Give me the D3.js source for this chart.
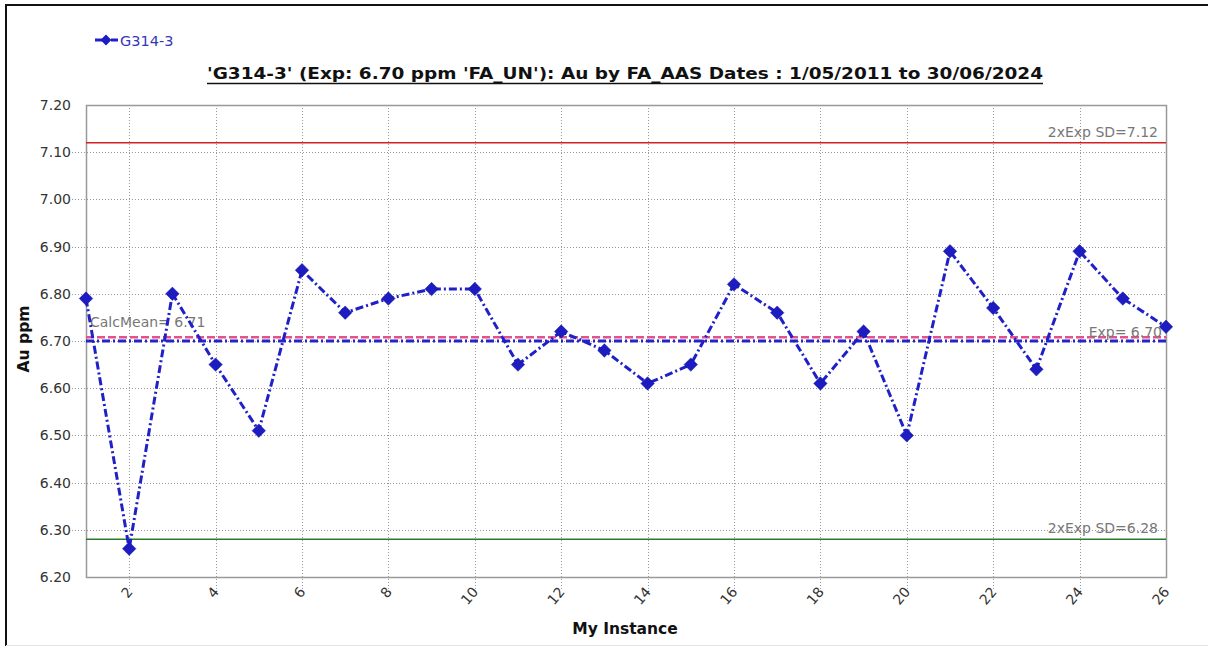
<!DOCTYPE html>
<html><head><meta charset="utf-8">
<script src="https://cdn.jsdelivr.net/npm/d3@7"></script>
<style>
html,body{margin:0;padding:0;background:#fff;}
svg{display:block;}
text{font-family:"DejaVu Sans",sans-serif;}
</style></head>
<body>
<svg id="c" width="1208" height="648"></svg>
<script>
const seriesName = "G314-3";
const instances = [1,2,3,4,5,6,7,8,9,10,11,12,13,14,15,16,17,18,19,20,21,22,23,24,25,26];
const values = [6.79,6.26,6.80,6.65,6.51,6.85,6.76,6.79,6.81,6.81,6.65,6.72,6.68,6.61,6.65,6.82,6.76,6.61,6.72,6.50,6.89,6.77,6.64,6.89,6.79,6.73];
const xTicks = [2,4,6,8,10,12,14,16,18,20,22,24,26];
const yTicks = [6.20,6.30,6.40,6.50,6.60,6.70,6.80,6.90,7.00,7.10,7.20];
const expValue = 6.70, calcMean = 6.71, upperSD = 7.12, lowerSD = 6.28;
const titleText = "'G314-3' (Exp: 6.70 ppm 'FA_UN'): Au by FA_AAS Dates : 1/05/2011 to 30/06/2024";

const svg = d3.select("#c");
const L = 86, R = 1166, T = 105, B = 577;
const x = d3.scaleLinear().domain([1,26]).range([L,R]);
const y = d3.scaleLinear().domain([6.2,7.2]).range([B,T]);

// outer frame
svg.append("line").attr("x1",6).attr("x2",1208).attr("y1",5).attr("y2",5).attr("stroke","#111").attr("stroke-width",2);
svg.append("line").attr("x1",6).attr("x2",6).attr("y1",4).attr("y2",646).attr("stroke","#111").attr("stroke-width",2);
svg.append("line").attr("x1",6).attr("x2",1208).attr("y1",645.5).attr("y2",645.5).attr("stroke","#e4e4e4").attr("stroke-width",1);

// grid
svg.append("g").selectAll("line").data(yTicks.slice(1,-1)).join("line")
  .attr("x1",L-14).attr("x2",R).attr("y1",d=>Math.round(y(d))+0.5).attr("y2",d=>Math.round(y(d))+0.5)
  .attr("stroke","#999").attr("stroke-width",1).attr("stroke-dasharray","1,2");
svg.append("g").selectAll("line").data(xTicks.slice(0,-1)).join("line")
  .attr("y1",T).attr("y2",B+14).attr("x1",d=>Math.round(x(d))+0.5).attr("x2",d=>Math.round(x(d))+0.5)
  .attr("stroke","#999").attr("stroke-width",1).attr("stroke-dasharray","1,2");

// plot border
svg.append("rect").attr("x",L+0.5).attr("y",T+0.5).attr("width",R-L).attr("height",B-T)
  .attr("fill","none").attr("stroke","#999").attr("stroke-width",1.5);

// axes labels via d3 axes
const yAxis = d3.axisLeft(y).tickValues(yTicks).tickFormat(d3.format(".2f")).tickSize(0).tickPadding(15);
const gy = svg.append("g").attr("transform",`translate(${L},0)`).call(yAxis);
gy.select(".domain").remove();
gy.selectAll("text").attr("font-size",14).attr("fill","#333").attr("font-family","DejaVu Sans");

const xAxis = d3.axisBottom(x).tickValues(xTicks).tickFormat(d3.format("d")).tickSize(0).tickPadding(0);
const gx = svg.append("g").attr("transform",`translate(0,${B})`).call(xAxis);
gx.select(".domain").remove();
gx.selectAll("text").attr("font-size",14).attr("fill","#333").attr("font-family","DejaVu Sans")
  .attr("text-anchor","end").attr("y",null).attr("dy","0.35em")
  .attr("transform","translate(0,12) rotate(-50)");

// reference lines
svg.append("line").attr("x1",L).attr("x2",R).attr("y1",y(upperSD)).attr("y2",y(upperSD)).attr("stroke","#d42020").attr("stroke-width",1.5);
svg.append("line").attr("x1",L).attr("x2",R).attr("y1",y(lowerSD)).attr("y2",y(lowerSD)).attr("stroke","#2e7a2e").attr("stroke-width",1.5);
svg.append("line").attr("x1",L).attr("x2",R).attr("y1",y(calcMean)+1).attr("y2",y(calcMean)+1).attr("stroke","#e8508a").attr("stroke-width",2.5).attr("stroke-dasharray","8,3");
svg.append("line").attr("x1",L).attr("x2",R).attr("y1",y(expValue)).attr("y2",y(expValue)).attr("stroke","#2424c8").attr("stroke-width",3).attr("stroke-dasharray","8,3,2,3");

// reference labels
const lab = (t,xx,yy,anchor)=>svg.append("text").text(t).attr("x",xx).attr("y",yy).attr("text-anchor",anchor)
  .attr("font-size",14).attr("fill","#777");
lab(`2xExp SD=${upperSD.toFixed(2)}`, R-8, y(upperSD)-6, "end");
lab(`2xExp SD=${lowerSD.toFixed(2)}`, R-8, y(lowerSD)-6, "end");
lab(`Exp= ${expValue.toFixed(2)}`, R-4, y(expValue)-4, "end");
lab(`CalcMean= ${calcMean.toFixed(2)}`, L+4, y(calcMean)-9, "start");

// series
const pts = instances.map((d,i)=>({x:d,v:values[i]}));
const line = d3.line().x(d=>x(d.x)).y(d=>y(d.v));
svg.append("path").datum(pts).attr("d",line).attr("fill","none").attr("stroke","#2020c8")
  .attr("stroke-width",3).attr("stroke-dasharray","8,3,2,3");
const diamond = d3.symbol().type(d3.symbolDiamond2).size(115);
svg.append("g").selectAll("path").data(pts).join("path")
  .attr("d",diamond).attr("transform",d=>`translate(${x(d.x)},${y(d.v)})`)
  .attr("fill","#1c1cc0").attr("stroke","#1010a0").attr("stroke-width",0.5);

// legend
svg.append("line").attr("x1",95).attr("x2",118).attr("y1",40).attr("y2",40).attr("stroke","#2020c8").attr("stroke-width",3).attr("stroke-dasharray","8,3,2,3");
svg.append("path").attr("d",d3.symbol().type(d3.symbolDiamond2).size(75)).attr("transform","translate(106,40)").attr("fill","#1c1cc0");
svg.append("text").text(seriesName).attr("x",120).attr("y",45.5).attr("font-size",14.5).attr("fill","#3535b8");

// title
svg.append("text").text(titleText).attr("x",207).attr("y",79)
  .attr("font-size",16.5).attr("font-weight","bold").attr("fill","#111")
  .attr("textLength",836).attr("lengthAdjust","spacingAndGlyphs");
svg.append("line").attr("x1",207).attr("x2",1043).attr("y1",83.5).attr("y2",83.5).attr("stroke","#111").attr("stroke-width",1.5);

// axis titles
svg.append("text").text("Au ppm").attr("transform","translate(29,339) rotate(-90)").attr("text-anchor","middle")
  .attr("font-size",15.5).attr("font-weight","bold").attr("fill","#111");
svg.append("text").text("My Instance").attr("x",625).attr("y",634).attr("text-anchor","middle")
  .attr("font-size",15.5).attr("font-weight","bold").attr("fill","#111");
</script>
</body></html>
